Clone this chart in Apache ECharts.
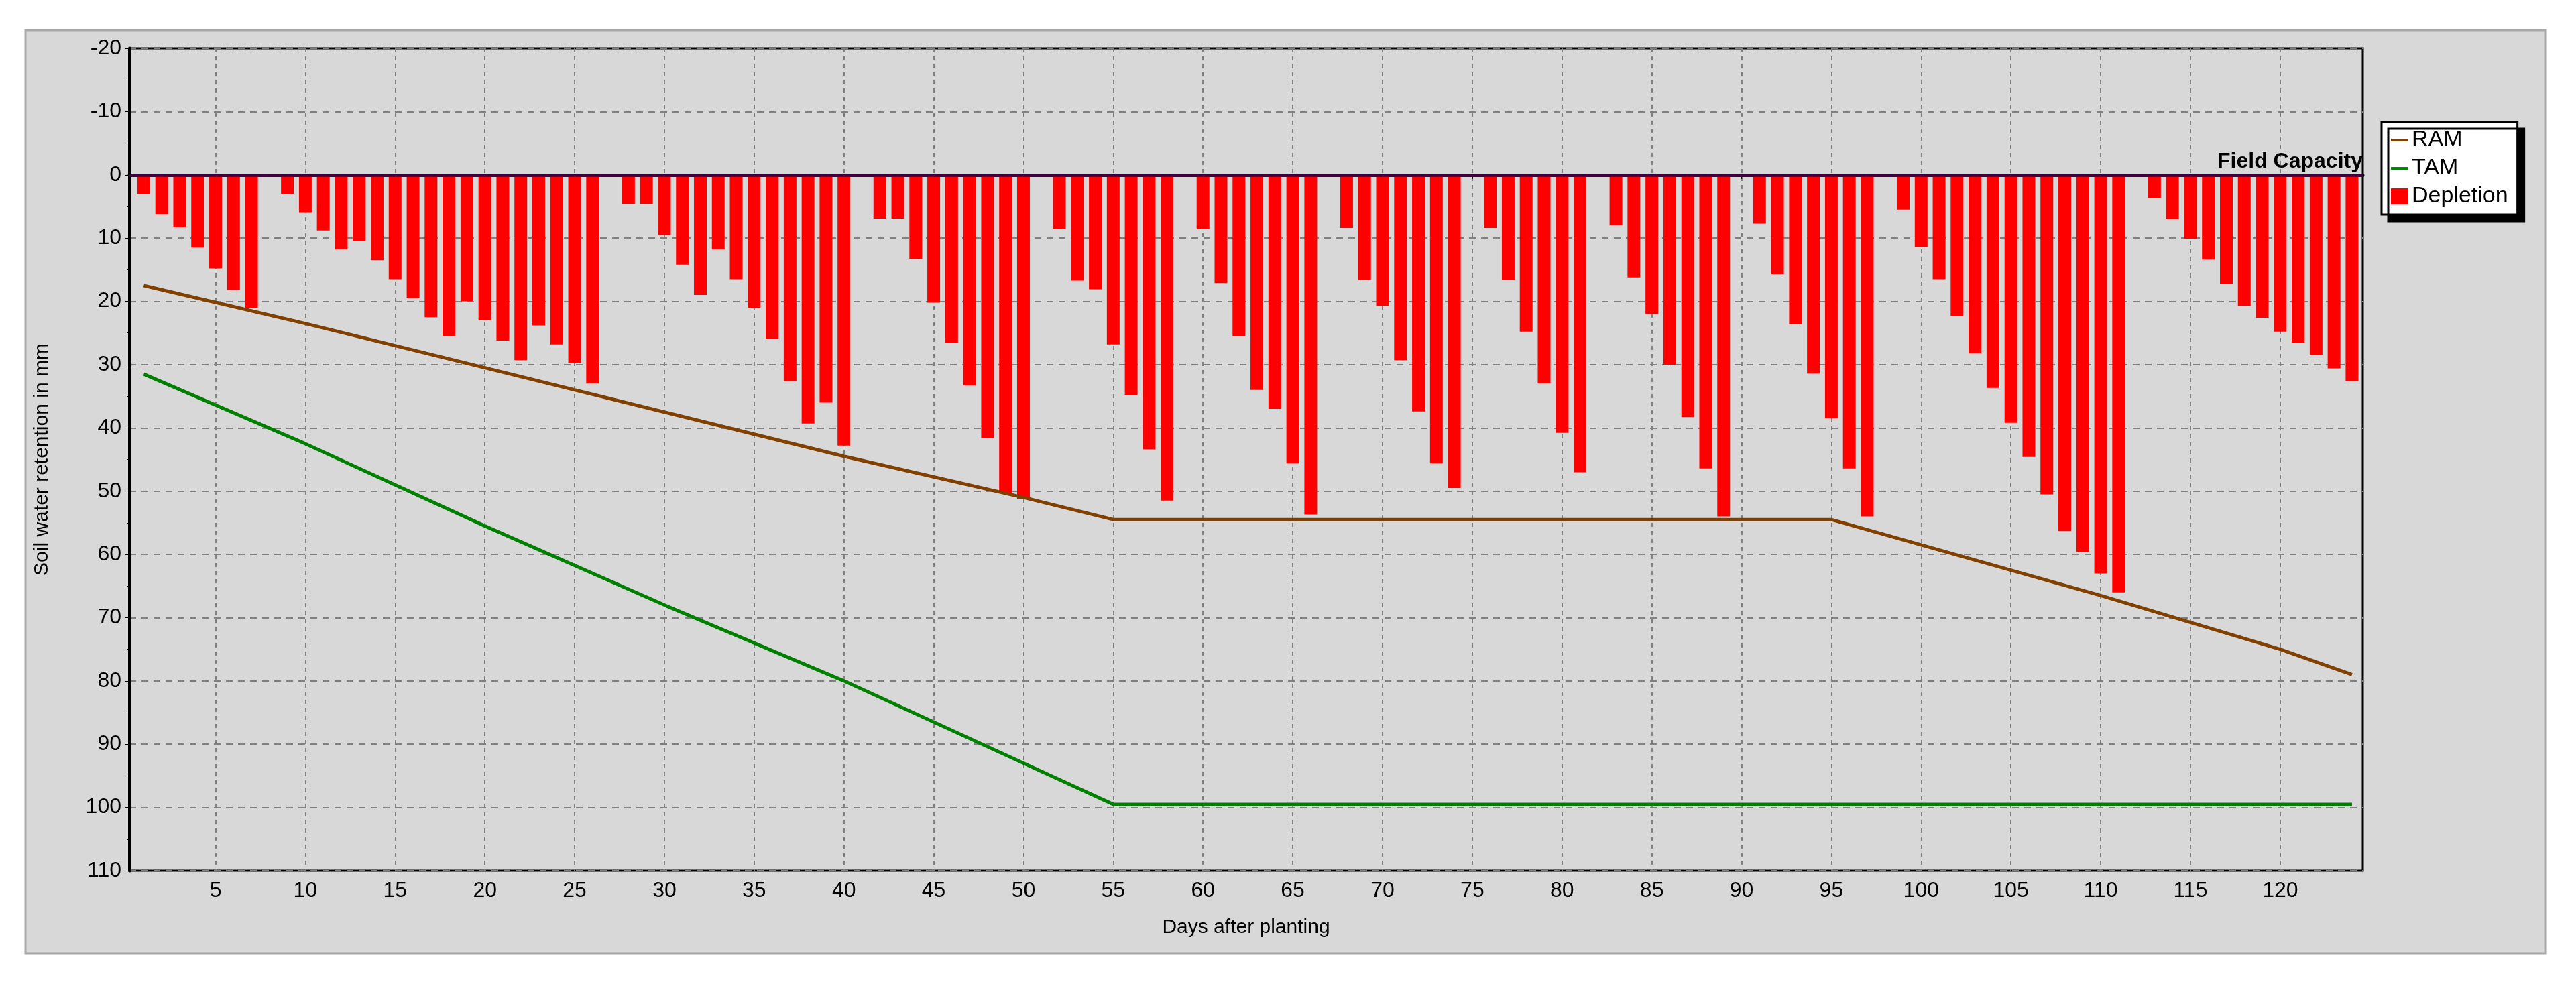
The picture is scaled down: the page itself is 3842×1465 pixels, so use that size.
<!DOCTYPE html>
<html><head><meta charset="utf-8">
<script src="https://cdn.jsdelivr.net/npm/echarts@6/dist/echarts.min.js"></script>
<style>html,body{margin:0;padding:0;background:#fff}#c{width:3842px;height:1465px}</style>
</head><body><div id="c"></div>
<script>
const days = [1,2,3,4,5,6,7,9,10,11,12,13,14,15,16,17,18,19,20,21,22,23,24,25,26,28,29,30,31,32,33,34,35,36,37,38,39,40,42,43,44,45,46,47,48,49,50,52,53,54,55,56,57,58,60,61,62,63,64,65,66,68,69,70,71,72,73,74,76,77,78,79,80,81,83,84,85,86,87,88,89,91,92,93,94,95,96,97,99,100,101,102,103,104,105,106,107,108,109,110,111,113,114,115,116,117,118,119,120,121,122,123,124];
const depletion = [3,6.3,8.3,11.5,14.8,18.2,21,3,6,8.8,11.8,10.5,13.5,16.5,19.5,22.5,25.5,20,23,26.2,29.3,23.8,26.8,29.8,33,4.6,4.6,9.5,14.2,19,11.8,16.5,21,25.9,32.6,39.3,36,42.8,6.9,6.9,13.3,20.2,26.6,33.3,41.6,50.3,51.2,8.6,16.7,18.1,26.8,34.8,43.4,51.5,8.6,17.1,25.5,34,37,45.6,53.7,8.4,16.6,20.7,29.3,37.4,45.6,49.5,8.4,16.6,24.8,33,40.8,47,8,16.2,22,30,38.3,46.4,54,7.7,15.7,23.6,31.4,38.5,46.4,54,5.5,11.4,16.5,22.3,28.2,33.7,39.2,44.6,50.5,56.3,59.6,63,66,3.7,7,10.1,13.4,17.3,20.7,22.6,24.8,26.5,28.5,30.6,32.6];
const ramDays = [1,10,20,30,40,50,55,95,100,110,120,124];
const ramVals = [17.5,23.5,30.5,37.5,44.5,51,54.5,54.5,58.5,66.5,75,79];
const tamDays = [1,10,20,30,40,50,55,124];
const tamVals = [31.5,42.5,55.5,68,80,93,99.5,99.5];
const xTicks = [5,10,15,20,25,30,35,40,45,50,55,60,65,70,75,80,85,90,95,100,105,110,115,120];

const zip = (a,b)=>a.map((v,i)=>[v,b[i]]);
const chart = echarts.init(document.getElementById('c'));
const tf = {fontFamily:'Liberation Sans, Arial', color:'#000'};
chart.setOption({
  animation:false,
  backgroundColor:'#fff',
  graphic:[{type:'rect',z:-10,shape:{x:38,y:45,width:3759,height:1377},style:{fill:'#d8d8d8',stroke:'#a8a8a8',lineWidth:3}}],
  grid:{left:193,right:318,top:72,bottom:166,show:true,borderColor:'#000',borderWidth:3,backgroundColor:'transparent'},
  legend:{orient:'vertical',left:3552,top:182,padding:[10,14,10,14],itemGap:8,backgroundColor:'#fff',borderColor:'#000',borderWidth:3,
    shadowColor:'#000',shadowBlur:0,shadowOffsetX:10,shadowOffsetY:10,itemWidth:26,itemHeight:24,
    textStyle:{...tf,fontSize:34},
    data:[{name:'RAM',icon:'path://M0,10L20,10L20,13L0,13Z'},{name:'TAM',icon:'path://M0,10L20,10L20,13L0,13Z'},{name:'Depletion',icon:'rect'}]},
  xAxis:{type:'value',min:0.2,max:124.6,name:'Days after planting',nameLocation:'middle',nameGap:70,nameTextStyle:{...tf,fontSize:30},
    axisLine:{lineStyle:{color:'#000',width:5}},
    axisTick:{customValues:xTicks,length:6,lineStyle:{color:'#000'}},
    axisLabel:{customValues:xTicks,...tf,fontSize:32,margin:14},
    splitLine:{show:true,lineStyle:{color:'#808080',type:[6,6],width:2}}},
  yAxis:{type:'value',inverse:true,min:-20,max:110,interval:10,name:'Soil water retention in mm',nameLocation:'middle',nameGap:115,nameTextStyle:{...tf,fontSize:30},
    axisLine:{show:true,lineStyle:{color:'#000',width:5}},
    axisTick:{show:true,length:6,lineStyle:{color:'#000'}},
    minorTick:{show:true,splitNumber:2,length:4,lineStyle:{color:'#000'}},
    axisLabel:{...tf,fontSize:32,margin:12},
    splitLine:{show:true,lineStyle:{color:'#808080',type:[10,8],width:2}}},
  series:[
    {name:'Depletion',type:'bar',data:zip(days,depletion),barWidth:19,itemStyle:{color:'#ff0000'},
      markLine:{silent:true,symbol:'none',data:[{yAxis:0}],lineStyle:{color:'#400040',width:5,type:'solid'},
        label:{position:'insideEndTop',formatter:'Field Capacity',fontFamily:'Liberation Sans, Arial',fontWeight:'bold',fontSize:32,color:'#000',distance:[0,4]}}},
    {name:'RAM',type:'line',data:zip(ramDays,ramVals),showSymbol:false,lineStyle:{color:'#804000',width:5},itemStyle:{color:'#804000'}},
    {name:'TAM',type:'line',data:zip(tamDays,tamVals),showSymbol:false,lineStyle:{color:'#008000',width:5},itemStyle:{color:'#008000'}}
  ]
});
</script></body></html>
